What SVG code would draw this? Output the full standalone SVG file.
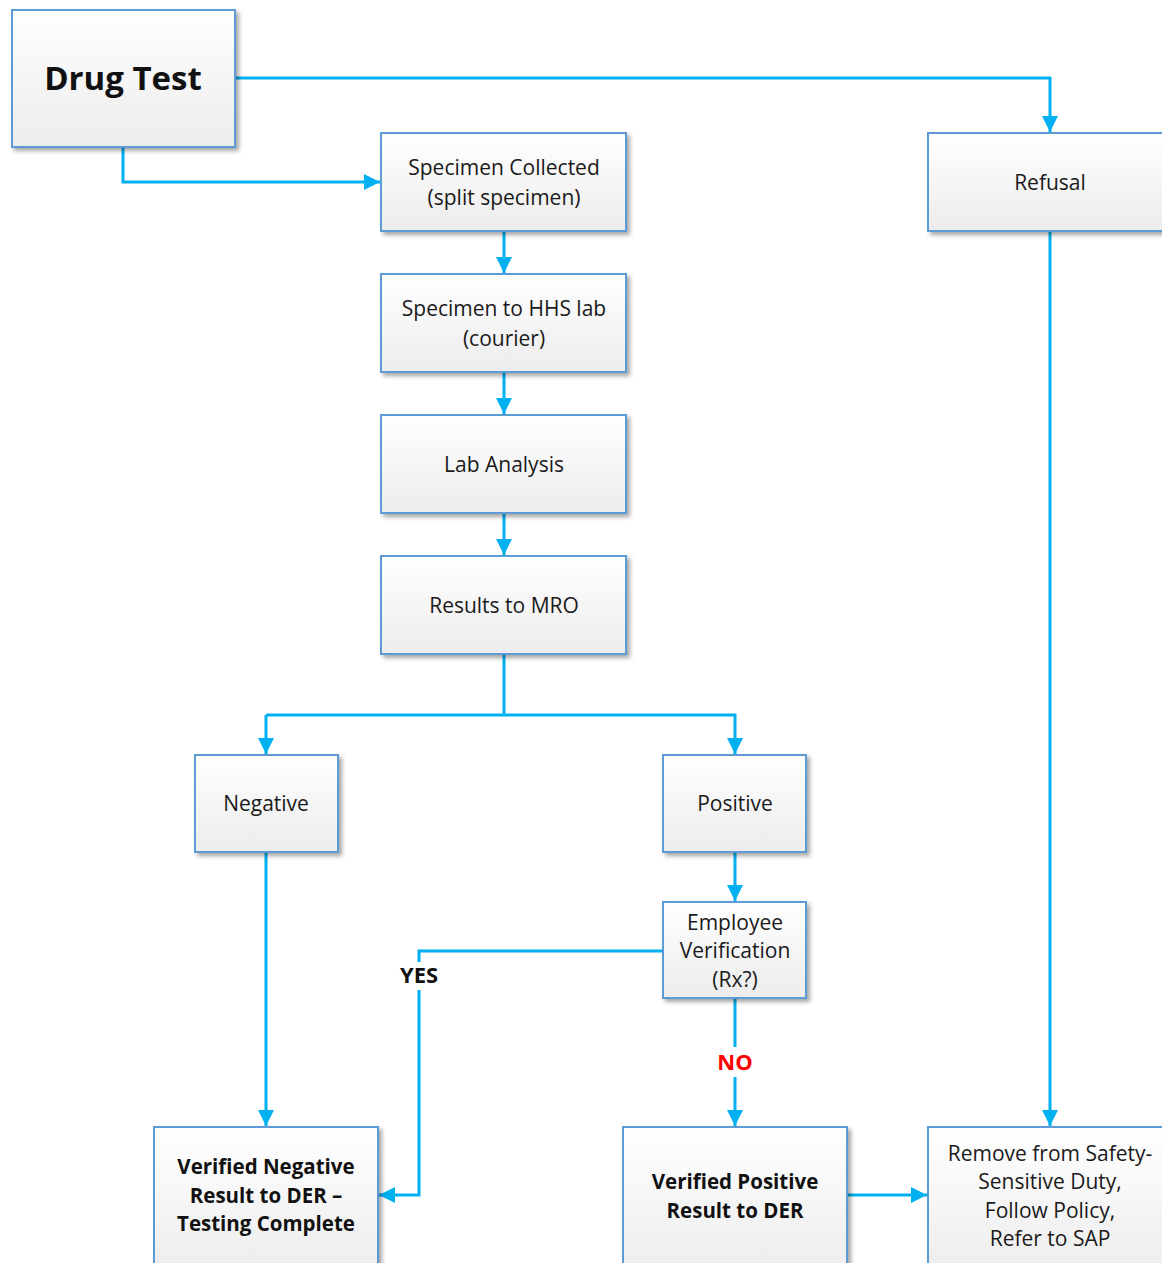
<svg xmlns="http://www.w3.org/2000/svg" width="1162" height="1263" viewBox="0 0 1162 1263">
<style>
.box{fill:url(#g);stroke:#5B9BD5;stroke-width:2;filter:url(#sh)}
.t{font-family:"Open Sans","Liberation Sans",sans-serif;font-size:21px;fill:#1a1a1a;text-anchor:middle}
.b{font-family:"Open Sans","Liberation Sans",sans-serif;font-size:20.5px;font-weight:bold;fill:#111;text-anchor:middle}
.c{fill:none;stroke:#00B0F0;stroke-width:3}
.ca{fill:none;stroke:#00B0F0;stroke-width:3;marker-end:url(#ah)}
</style>
<defs>
<linearGradient id="g" x1="0" y1="0" x2="0" y2="1">
<stop offset="0" stop-color="#FFFFFF"/>
<stop offset="1" stop-color="#ECECEC"/>
</linearGradient>
<filter id="sh" x="-10%" y="-10%" width="130%" height="130%">
<feDropShadow dx="3" dy="3" stdDeviation="2" flood-color="#000" flood-opacity="0.35"/>
</filter>
<marker id="ah" markerUnits="userSpaceOnUse" markerWidth="18" markerHeight="18" refX="16" refY="8" orient="auto">
<path d="M0,0 L16,8 L0,16 Z" fill="#00B0F0"/>
</marker>
</defs>
<rect width="1162" height="1263" fill="#fff"/>
<g id="connectors">
<path class="ca" d="M235,78 H1050 V132"/>
<path class="ca" d="M123,147 V182 H380"/>
<path class="ca" d="M504,231 V273"/>
<path class="ca" d="M504,372 V414"/>
<path class="ca" d="M504,513 V555"/>
<path class="c" d="M504,654 V715"/>
<path class="ca" d="M266,715 H735 V754"/>
<path class="ca" d="M266,715 V754"/>
<path class="ca" d="M735,852 V901"/>
<path class="c" d="M663,951 H419 V962"/>
<path class="ca" d="M419,990 V1195 H379"/>
<path class="c" d="M735,998 V1047"/>
<path class="ca" d="M735,1077 V1126"/>
<path class="ca" d="M266,852 V1126"/>
<path class="ca" d="M1050,231 V1126"/>
<path class="ca" d="M847,1195 H927"/>
<text x="419" y="983" class="b" style="font-size:22px">YES</text>
<text x="735" y="1070" class="b" style="font-size:22px;fill:#FF0000">NO</text>
</g>
<g id="drug-test"><rect class="box" x="12" y="10" width="223" height="137"/><text x="123" y="90" class="b" style="font-size:33px">Drug Test</text></g>
<g id="specimen-collected"><rect class="box" x="381" y="133" width="245" height="98"/><text x="504" y="175" class="t">Specimen Collected</text><text x="504" y="205" class="t">(split specimen)</text></g>
<g id="specimen-to-lab"><rect class="box" x="381" y="274" width="245" height="98"/><text x="504" y="316" class="t">Specimen to HHS lab</text><text x="504" y="346" class="t">(courier)</text></g>
<g id="lab-analysis"><rect class="box" x="381" y="415" width="245" height="98"/><text x="504" y="472" class="t">Lab Analysis</text></g>
<g id="results-mro"><rect class="box" x="381" y="556" width="245" height="98"/><text x="504" y="613" class="t">Results to MRO</text></g>
<g id="refusal"><rect class="box" x="928" y="133" width="240" height="98"/><text x="1050" y="190" class="t">Refusal</text></g>
<g id="negative"><rect class="box" x="195" y="755" width="143" height="97"/><text x="266" y="811" class="t">Negative</text></g>
<g id="positive"><rect class="box" x="663" y="755" width="143" height="97"/><text x="735" y="811" class="t">Positive</text></g>
<g id="employee-verification"><rect class="box" x="663" y="902" width="143" height="96"/><text x="735" y="930" class="t">Employee</text><text x="735" y="958" class="t">Verification</text><text x="735" y="987" class="t">(Rx?)</text></g>
<g id="verified-negative"><rect class="box" x="154" y="1127" width="224" height="150"/><text x="266" y="1174" class="b">Verified Negative</text><text x="266" y="1203" class="b">Result to DER –</text><text x="266" y="1231" class="b">Testing Complete</text></g>
<g id="verified-positive"><rect class="box" x="623" y="1127" width="224" height="150"/><text x="735" y="1189" class="b">Verified Positive</text><text x="735" y="1218" class="b">Result to DER</text></g>
<g id="remove"><rect class="box" x="928" y="1127" width="240" height="150"/><text x="1050" y="1161" class="t">Remove from Safety-</text><text x="1050" y="1189" class="t">Sensitive Duty,</text><text x="1050" y="1218" class="t">Follow Policy,</text><text x="1050" y="1246" class="t">Refer to SAP</text></g>
</svg>
